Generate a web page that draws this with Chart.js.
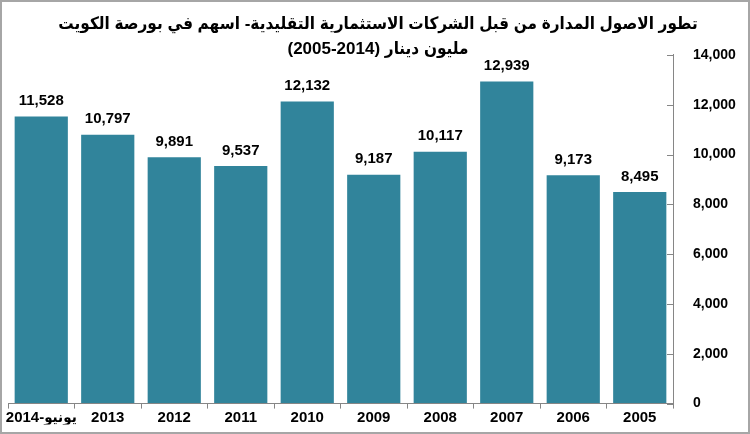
<!DOCTYPE html>
<html>
<head>
<meta charset="utf-8">
<script src="https://cdn.jsdelivr.net/npm/chart.js@4/dist/chart.umd.min.js"></script>
<style>
  html, body { margin: 0; padding: 0; background: #fff; }
  #wrap { width: 746px; height: 430px; border: 2px solid #a6a6a6; background: #fff; }
</style>
</head>
<body>
<div id="wrap"><canvas id="myBarChart" dir="rtl" width="746" height="430"></canvas></div>
<script>
var categories = ['يونيو-2014', '2013', '2012', '2011', '2010', '2009', '2008', '2007', '2006', '2005'];
var assetValues = [11528, 10797, 9891, 9537, 12132, 9187, 10117, 12939, 9173, 8495];
var titleLines = ['تطور الاصول المدارة من قبل الشركات الاستثمارية التقليدية- اسهم في بورصة الكويت', 'مليون دينار (2014-2005)'];

var fontFamily = '"Liberation Sans", Arial, "DejaVu Sans Condensed", "DejaVu Sans", sans-serif';

// numbers over the bars
var valueLabels = {
    id: 'valueLabels',
    afterDatasetsDraw: function (chart) {
        var ctx = chart.ctx;
        var meta = chart.getDatasetMeta(0);
        ctx.save();
        ctx.font = 'bold 15px ' + fontFamily;
        ctx.fillStyle = '#000';
        ctx.textAlign = 'center';
        ctx.textBaseline = 'bottom';
        meta.data.forEach(function (bar, i) {
            ctx.fillText(assetValues[i].toLocaleString('en-US'), bar.x, bar.y - 8);
        });
        ctx.restore();
    }
};

// small ticks pointing into the plot on the right axis
var innerTicks = {
    id: 'innerTicks',
    afterDraw: function (chart) {
        var ctx = chart.ctx;
        var y = chart.scales.y;
        ctx.save();
        ctx.strokeStyle = '#868686';
        ctx.lineWidth = 1;
        y.ticks.forEach(function (t) {
            var py = Math.round(y.getPixelForValue(t.value)) + 0.5;
            ctx.beginPath();
            ctx.moveTo(y.left - 6, py);
            ctx.lineTo(y.left, py);
            ctx.stroke();
        });
        ctx.restore();
    }
};

new Chart(document.getElementById('myBarChart').getContext('2d'), {
    type: 'bar',
    data: {
        labels: categories,
        datasets: [{
            data: assetValues,
            backgroundColor: '#31849b',
            barPercentage: 0.8,
            categoryPercentage: 1
        }]
    },
    options: {
        responsive: false,
        animation: false,
        layout: { padding: { left: 6, right: 0, top: 0, bottom: 7 } },
        plugins: {
            legend: { display: false },
            tooltip: { enabled: false },
            title: {
                display: true,
                text: titleLines,
                color: '#000',
                font: { family: fontFamily, size: 17, weight: 'bold', lineHeight: 1.47 },
                padding: { top: 10, bottom: -7 }
            }
        },
        scales: {
            x: {
                grid: { drawOnChartArea: false, color: '#868686', tickLength: 5 },
                border: { color: '#868686' },
                ticks: {
                    color: '#000',
                    padding: 0,
                    autoSkip: false,
                    maxRotation: 0,
                    minRotation: 0,
                    font: { family: fontFamily, size: 15, weight: 'bold' }
                },
                afterFit: function (s) { s.height = 21; }
            },
            y: {
                position: 'right',
                min: 0,
                max: 14000,
                ticks: {
                    stepSize: 2000,
                    color: '#000',
                    padding: 20,
                    font: { family: fontFamily, size: 14, weight: 'bold' },
                    callback: function (v) { return v.toLocaleString('en-US'); }
                },
                grid: { drawOnChartArea: false, drawTicks: false },
                border: { color: '#868686' },
                afterFit: function (s) { s.width = 75; }
            }
        }
    },
    plugins: [valueLabels, innerTicks]
});
</script>
</body>
</html>
